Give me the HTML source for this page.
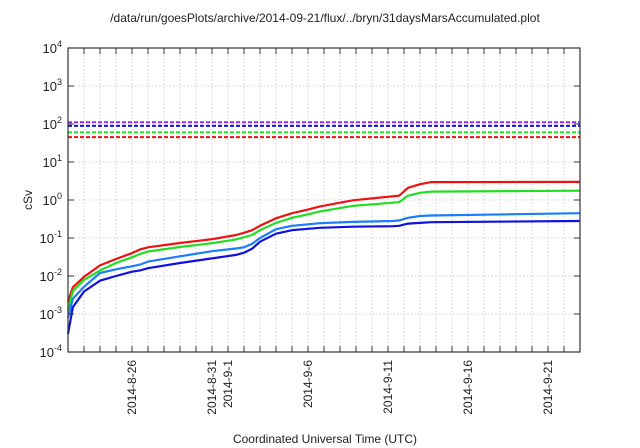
<!DOCTYPE html>
<html><head><meta charset="utf-8">
<style>
html,body{margin:0;padding:0;background:#fff;}
svg{display:block;font-family:"Liberation Sans",Arial,sans-serif;}
</style></head>
<body>
<svg id="chart" width="640" height="448" viewBox="0 0 640 448" xmlns="http://www.w3.org/2000/svg">
<text x="325" y="22" font-size="12" text-anchor="middle" fill="#222">/data/run/goesPlots/archive/2014-09-21/flux/../bryn/31daysMarsAccumulated.plot</text>
<text x="0" y="0" font-size="12" text-anchor="middle" fill="#222" transform="translate(32,200) rotate(-90)">cSv</text>
<text x="325" y="443" font-size="12" text-anchor="middle" fill="#222">Coordinated Universal Time (UTC)</text>
<g id="grid"></g>
<g id="thresholds"></g>
<g id="series"></g>
<g id="axes"></g>
</svg>
<script>
// ---- data ----
const dayOffsets = [0,0.3,1,2,3,4,4.5,5,7,9,10.5,11,11.5,12,13,14,15,15.75,17.8,20.3,20.7,21.25,22,22.7,32];
const redValues = [0.0021,0.005,0.0095,0.019,0.028,0.04,0.05,0.057,0.074,0.093,0.12,0.137,0.16,0.21,0.33,0.45,0.56,0.68,0.98,1.25,1.3,2.1,2.6,2.95,3.0];
const greenValues = [0.0013,0.004,0.0079,0.014,0.022,0.031,0.038,0.044,0.058,0.073,0.092,0.105,0.12,0.16,0.25,0.34,0.42,0.5,0.7,0.85,0.88,1.3,1.55,1.66,1.76];
const lightBlueValues = [0.0008,0.0025,0.0052,0.012,0.015,0.018,0.02,0.024,0.033,0.045,0.053,0.057,0.07,0.1,0.17,0.21,0.23,0.245,0.265,0.28,0.29,0.34,0.38,0.39,0.45];
const blueValues = [0.0003,0.0015,0.0039,0.0075,0.01,0.013,0.014,0.016,0.022,0.029,0.036,0.041,0.052,0.08,0.13,0.16,0.175,0.185,0.198,0.205,0.21,0.24,0.25,0.26,0.28];
const thresholdValues = [111,89,60,45];
const thresholdNames = ["purple","blue","green","red"];
const yTickExponents = [-4,-3,-2,-1,0,1,2,3,4];
const xTickLabels = ["2014-8-26","2014-8-31","2014-9-1","2014-9-6","2014-9-11","2014-9-16","2014-9-21"];
const xTickLabelDays = [4,9,10,15,20,25,30];
const totalDays = 32;

// ---- layout ----
const L=68,R=580,T=48,B=352;
const NS="http://www.w3.org/2000/svg";
const xS=d=>L+(R-L)*d/totalDays;
const yS=v=>B-(B-T)*(Math.log10(v)+4)/8;
function mk(tag,attrs,parent){const e=document.createElementNS(NS,tag);for(const k in attrs)e.setAttribute(k,attrs[k]);parent.appendChild(e);return e;}
const grid=document.getElementById('grid'),axes=document.getElementById('axes'),ser=document.getElementById('series'),thr=document.getElementById('thresholds');

for(let d=1;d<totalDays;d++){
  const x=xS(d);
  const g=mk('line',{x1:x,x2:x,y1:T,y2:B,stroke:'#c4c4c4','stroke-width':0.8,'stroke-dasharray':'1.5,2'},grid);
  
  
  const t1=mk('line',{x1:x,x2:x,y1:B,y2:B-6,stroke:'#333','stroke-width':1},axes);
  
  
  const t2=mk('line',{x1:x,x2:x,y1:T,y2:T+6,stroke:'#333','stroke-width':1},axes);
  
  
}
yTickExponents.forEach(ex=>{
  const y=yS(Math.pow(10,ex));
  if(ex>-4&&ex<4){
    const g=mk('line',{x1:L,x2:R,y1:y,y2:y,stroke:'#c4c4c4','stroke-width':0.8,'stroke-dasharray':'1.5,2'},grid);
    
    
  }
  const t=mk('line',{x1:L,x2:L+6,y1:y,y2:y,stroke:'#333'},axes);
  
  
  const t2=mk('line',{x1:R-6,x2:R,y1:y,y2:y,stroke:'#333'},axes);
  
  
  const lab=mk('text',{x:L-6,y:y+5,'font-size':13,'text-anchor':'end',fill:'#222'},axes);
  
  
  lab.appendChild(document.createTextNode('10'));
  const sup=mk('tspan',{dy:-6,'font-size':9},lab);
  sup.textContent=String(ex);
});
xTickLabels.forEach((s,i)=>{
  const x=xS(xTickLabelDays[i]);
  const t=mk('text',{x:0,y:0,'font-size':12,'text-anchor':'end',fill:'#222',transform:`translate(${x+4},${B+8}) rotate(-90)`},axes);
  
  
  t.textContent=s;
});
const thrColors=['#9a2cf0','#1010e0','#22dd22','#ee1111'];
thresholdValues.forEach((v,i)=>{
  const y=yS(v);
  const l=mk('line',{x1:L,x2:R,y1:y,y2:y,stroke:thrColors[i],'stroke-width':2,'stroke-dasharray':'4,2'},thr);
  
  
});
const seriesList=[[redValues,'#ee1111','red-series'],[greenValues,'#22dd22','green-series'],[lightBlueValues,'#1a7cff','light-blue-series'],[blueValues,'#1010e0','blue-series']];
seriesList.forEach(([vals,col,name])=>{
  const pts=dayOffsets.map((d,i)=>xS(d).toFixed(1)+','+yS(vals[i]).toFixed(1)).join(' ');
  const p=mk('polyline',{points:pts,fill:'none',stroke:col,'stroke-width':2.2,'stroke-linejoin':'round'},ser);
  
  
});
const f=mk('rect',{x:L,y:T,width:R-L,height:B-T,fill:'none',stroke:'#333','stroke-width':1.2},axes);


</script>
</body></html>
